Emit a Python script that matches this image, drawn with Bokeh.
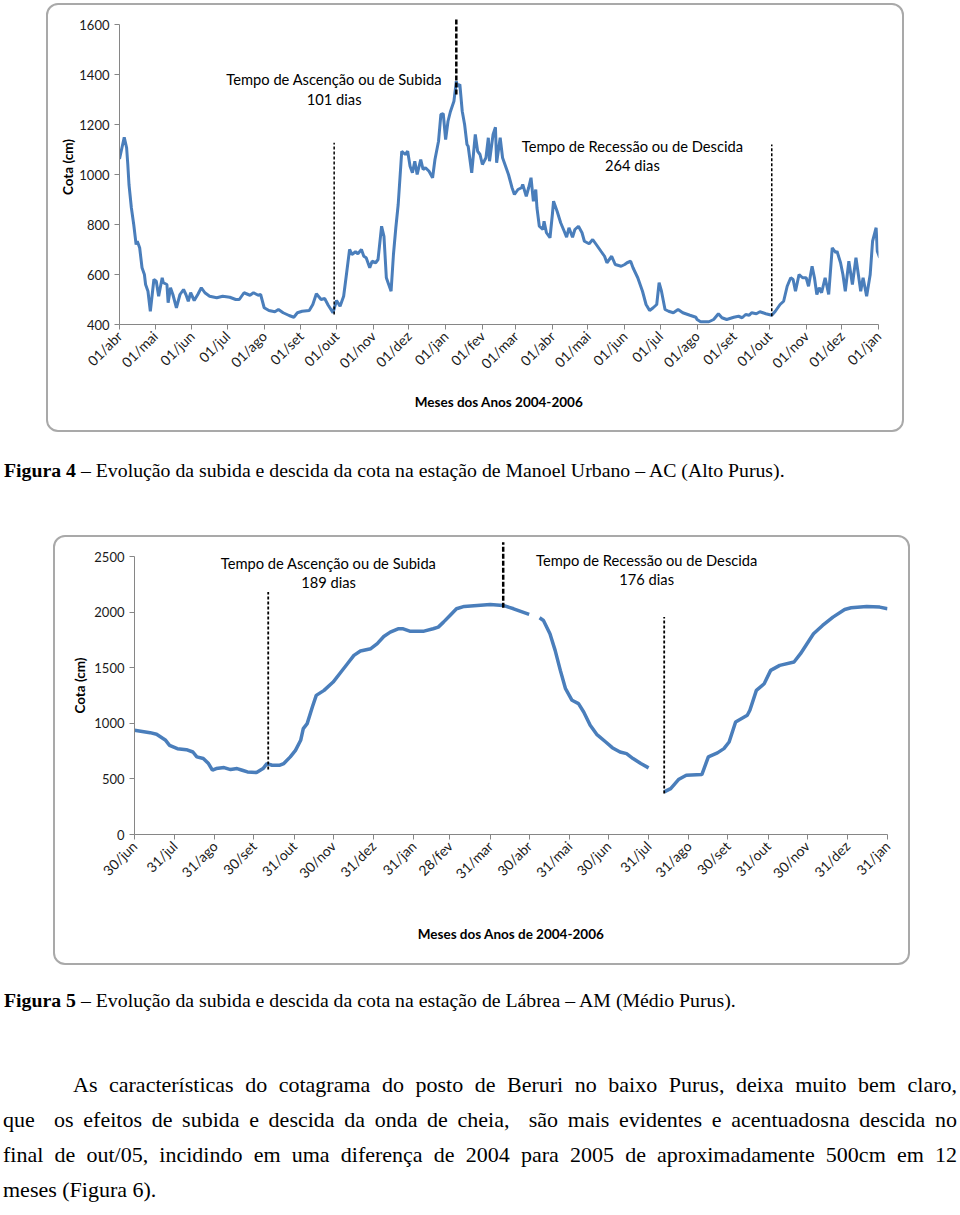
import math
from bokeh.plotting import figure
from bokeh.models import FixedTicker, Label, Arrow, Div, Range1d
from bokeh.layouts import column
from bokeh.embed import file_html
from bokeh.resources import INLINE

# ---------------- Figura 4 : Manoel Urbano (days since 01/abr/2004) ----------------
mu_day = [0, 4, 6, 7, 8, 10, 12, 14, 15, 17, 19, 21, 22, 24, 26, 29, 31, 33, 36, 37, 40, 41, 43, 45, 48,
          51, 54, 56, 58, 60, 63, 66, 69, 72, 76, 82, 87, 93, 98, 101, 105, 110, 113, 117, 119, 122, 126,
          131, 134, 138, 143, 147, 150, 154, 160,
          163, 166, 170, 173, 176, 180, 183, 186, 189, 191, 194, 196, 199, 201, 204, 206, 208, 211, 213,
          216, 218, 221, 223, 225, 227, 229, 231, 233, 235, 238, 241, 243, 245, 247, 249, 251, 254, 256,
          258, 261, 264, 266, 269, 271, 273, 275, 277, 279, 282, 284, 285, 287, 289, 291, 293, 294, 297,
          300, 302, 304, 306, 309, 311, 312, 315, 317,
          318, 321, 323, 328, 331, 333, 336, 339, 340, 343, 345, 347, 349, 351, 352, 354, 357, 358, 360,
          363, 365, 366, 369, 372, 375, 377, 379, 382, 384, 387, 390, 392, 396, 399, 402, 406, 409, 411,
          415, 418, 423, 426, 428, 431, 433, 437, 441, 444, 447, 450, 453, 455, 457, 460, 463, 467, 471,
          475, 481, 486,
          487, 490, 497, 501, 505, 508, 512, 518, 522, 525, 528, 531, 533, 537, 540, 545, 550, 553, 557,
          560, 563, 566, 568, 570, 573, 576, 579, 581, 584, 586, 588, 590, 592, 595, 598, 601, 604, 605,
          608, 610, 612, 615, 618, 621, 623, 625, 627, 630, 633, 635, 638, 639, 641]
mu_cota = [1062, 1149, 1107, 1040, 960, 867, 800, 720, 733, 707, 627, 600, 560, 533, 453, 580, 573, 513,
           587, 567, 560, 487, 547, 520, 467, 520, 540, 520, 493, 527, 496, 520, 547, 527, 513, 507, 513,
           509, 500, 500, 527, 517, 527, 517, 520, 467, 456, 451, 460, 447, 436, 429, 447, 453, 456,
           480, 523, 500, 504, 477, 447, 496, 473, 513, 587, 700, 680, 691, 683, 700, 673, 667, 627, 653,
           647, 660, 793, 753, 587, 560, 533, 680, 787, 880, 1093, 1080, 1093, 1033, 1007, 1053, 1000,
           1060, 1020, 1027, 1013, 987, 1060, 1133, 1240, 1243, 1140, 1213, 1251, 1293, 1373, 1353, 1360,
           1253, 1200, 1120, 1113, 1007, 1160, 1093, 1080, 1040, 1067, 1147, 1053, 1160, 1189,
           1047, 1147, 1067, 1000, 947, 920, 940, 947, 960, 913, 947, 987, 893, 940, 867, 793, 780, 813,
           767, 747, 840, 893, 853, 807, 773, 749, 787, 749, 780, 793, 767, 733, 723, 740, 720, 693, 673,
           647, 673, 640, 633, 640, 647, 653, 627, 587, 533, 480, 456, 467, 480, 567, 533, 460, 453, 447,
           460, 447, 437, 429,
           420, 411, 411, 420, 443, 427, 420, 429, 433, 427, 440, 437, 447, 443, 451, 443, 437, 453, 480,
           493, 553, 587, 580, 533, 600, 587, 587, 553, 633, 587, 520, 547, 527, 587, 520, 707, 687, 693,
           647, 600, 533, 653, 560, 667, 600, 533, 587, 513, 600, 733, 787, 693, 667]
mu_tick_day = [0, 30, 61, 91, 122, 153, 183, 214, 244, 275, 306, 334, 365, 395, 426, 456, 487, 518,
               548, 579, 609, 640]
mu_tick_label = ["01/abr", "01/mai", "01/jun", "01/jul", "01/ago", "01/set", "01/out", "01/nov",
                 "01/dez", "01/jan", "01/fev", "01/mar", "01/abr", "01/mai", "01/jun", "01/jul",
                 "01/ago", "01/set", "01/out", "01/nov", "01/dez", "01/jan"]
mu_y_ticks = [400, 600, 800, 1000, 1200, 1400, 1600]
mu_mark_day = [181, 284, 550]
mu_mark_low = [440, 1320, 433]
mu_mark_high = [1127, 1620, 1120]

# ---------------- Figura 5 : Lábrea (days since 30/jun/2004) ----------------
lab_day_1 = [0, 12, 17, 24, 27, 33, 40, 45, 48, 53, 57, 60, 63, 69, 74, 79, 83, 87, 94, 99, 102, 106,
             112, 115, 120, 124, 128, 130, 133, 137, 140, 146, 153, 158, 164, 169, 174, 182, 187, 192,
             197, 203, 207, 212, 223, 230, 234, 238, 243, 248, 254, 264, 274, 284, 292, 304]
lab_cota_1 = [937, 916, 901, 847, 802, 772, 763, 742, 698, 683, 638, 578, 593, 602, 584, 593, 578, 563,
              557, 593, 638, 623, 623, 638, 698, 757, 847, 952, 997, 1147, 1251, 1296, 1371, 1446, 1536,
              1611, 1650, 1671, 1716, 1781, 1820, 1850, 1850, 1829, 1829, 1850, 1865, 1910, 1970, 2030,
              2051, 2060, 2069, 2060, 2030, 1979]
lab_day_2 = [312, 315, 320, 324, 328, 332, 337, 342, 346, 351, 356, 363, 368, 374, 379, 384, 390, 396]
lab_cota_2 = [1949, 1925, 1805, 1656, 1476, 1311, 1207, 1177, 1102, 982, 901, 832, 781, 742, 727, 683,
              638, 599]
lab_day_3 = [408, 413, 419, 425, 437, 442, 449, 454, 458, 463, 472, 474, 479, 485, 490, 497, 508, 513,
             518, 523, 530, 538, 547, 552, 564, 574, 580]
lab_cota_3 = [383, 413, 494, 533, 539, 698, 734, 772, 832, 1012, 1072, 1117, 1296, 1356, 1476, 1521,
              1551, 1626, 1716, 1805, 1880, 1955, 2024, 2039, 2051, 2045, 2030]
lab_tick_day = [0, 31, 62, 92, 123, 153, 184, 215, 243, 274, 304, 335, 365, 396, 427, 457, 488, 518,
                549, 580]
lab_tick_label = ["30/jun", "31/jul", "31/ago", "30/set", "31/out", "30/nov", "31/dez", "31/jan",
                  "28/fev", "31/mar", "30/abr", "31/mai", "30/jun", "31/jul", "31/ago", "30/set",
                  "31/out", "30/nov", "31/dez", "31/jan"]
lab_y_ticks = [0, 500, 1000, 1500, 2000, 2500]
lab_mark_day = [103, 284, 408]
lab_mark_low = [584, 2039, 368]
lab_mark_high = [2180, 2629, 1955]

FONT = "Lato"
BLUE = "#4A7EBB"
AXIS = "#868686"
BOX = {"outline": "2px solid #a9a9a9", "outline-offset": "-2px", "border-radius": "12px"}


def make_fig(w, h, x_end, y0, y1, ybound, bl, br, bt, bb, mt, ml, ticks, labels, yticks,
             xtitle, xstand, ystand):
    p = figure(width=w, height=h, x_range=Range1d(0, x_end), y_range=Range1d(y0, y1),
               output_backend="svg", toolbar_location=None, min_border_left=bl, min_border_right=br,
               min_border_top=bt, min_border_bottom=bb, margin=(mt, 0, 0, ml), styles=BOX,
               background_fill_color=None, border_fill_color=None, frame_align=False)
    p.grid.visible = False
    p.outline_line_color = None
    for ax in (p.xaxis[0], p.yaxis[0]):
        ax.axis_line_color = AXIS
        ax.major_tick_line_color = AXIS
        ax.minor_tick_line_color = None
        ax.major_tick_in = 0
        ax.major_tick_out = 5
        ax.major_label_text_font = FONT
        ax.major_label_text_color = "#1a1a1a"
        ax.axis_label_text_font = FONT
        ax.axis_label_text_font_style = "bold"
        ax.axis_label_text_font_size = "13.5px"
        ax.axis_label_text_color = "black"
    p.xaxis.major_label_text_font_size = "14px"
    p.yaxis.major_label_text_font_size = "13px"
    p.xaxis.ticker = FixedTicker(ticks=ticks)
    p.xaxis.major_label_overrides = {t: l for t, l in zip(ticks, labels)}
    p.xaxis.major_label_orientation = math.pi / 4
    p.xaxis.major_label_standoff = 4
    p.xaxis.axis_label = xtitle
    p.xaxis.axis_label_standoff = xstand
    p.yaxis.ticker = FixedTicker(ticks=yticks)
    p.yaxis.bounds = ybound
    p.yaxis.axis_label = "Cota (cm)"
    p.yaxis.axis_label_standoff = ystand
    p.yaxis.major_label_standoff = 5
    return p


def add_marks(p, days, lows, highs, styles):
    for d, lo, hi, (w, dash) in zip(days, lows, highs, styles):
        p.add_layout(Arrow(end=None, x_start=d, y_start=lo, x_end=d, y_end=hi,
                           line_color="black", line_width=w, line_dash=dash))


def add_text(p, x, y, txt):
    p.add_layout(Label(x=x, y=y, text=txt, text_align="center", text_baseline="middle",
                       text_font=FONT, text_font_size="14.7px", text_color="black"))


# Figure 4  (element y 3..432, frame bottom at y=324)
p1 = make_fig(858, 429, 640, 400, 1660, (400, 1600), 73, 26, 6, 108, 3, 46,
              mu_tick_day, mu_tick_label, mu_y_ticks, "Meses dos Anos 2004-2006", 13, 0)
p1.line(mu_day, mu_cota, line_color=BLUE, line_width=3)
add_marks(p1, mu_mark_day, mu_mark_low, mu_mark_high, [(1.5, "3 2"), (2.5, "5 2"), (1.5, "3 2")])
add_text(p1, 181, 1384, "Tempo de Ascenção ou de Subida")
add_text(p1, 181, 1304, "101 dias")
add_text(p1, 432.5, 1116, "Tempo de Recessão ou de Descida")
add_text(p1, 432.5, 1040, "264 dias")

# Figure 5  (element y 535..965, frame bottom at y=834)
p2 = make_fig(857, 430, 580, 0, 2680, (0, 2500), 81, 23, 1, 131, 0, 53,
              lab_tick_day, lab_tick_label, lab_y_ticks, "Meses dos Anos de 2004-2006", 35, 3)
for xs, ys in ((lab_day_1, lab_cota_1), (lab_day_2, lab_cota_2), (lab_day_3, lab_cota_3)):
    p2.line(xs, ys, line_color=BLUE, line_width=3.5)
add_marks(p2, lab_mark_day, lab_mark_low, lab_mark_high, [(1.8, "3 2"), (2.5, "5 2"), (1.8, "3 2")])
add_text(p2, 149.5, 2446, "Tempo de Ascenção ou de Subida")
add_text(p2, 149.5, 2275, "189 dias")
add_text(p2, 394.5, 2473, "Tempo de Recessão ou de Descida")
add_text(p2, 394.5, 2302, "176 dias")

SERIF = "font-family:'Liberation Serif','Times New Roman',serif; color:#000; margin:0;"
cap1 = Div(width=958, height=103, margin=0, text=(
    f'<div style="{SERIF} font-size:19.8px; line-height:26px; padding-top:25px; margin-left:4px; '
    'white-space:nowrap;"><b>Figura 4</b> – Evolução da subida e descida da cota na estação de '
    'Manoel Urbano – AC (Alto Purus).</div>'))
cap2 = Div(width=958, height=102, margin=0, text=(
    f'<div style="{SERIF} font-size:19.8px; line-height:26px; padding-top:22px; margin-left:4px; '
    'white-space:nowrap;"><b>Figura 5</b> – Evolução da subida e descida da cota na estação de '
    'Lábrea – AM (Médio Purus).</div>'))
J = 'text-align:justify; text-align-last:justify; white-space:nowrap;'
para = Div(width=958, height=148, margin=0, styles={"overflow": "hidden"}, text=(
    f'<div style="{SERIF} font-size:22px; line-height:35px; margin-left:3px; width:954px;">'
    f'<div style="{J} text-indent:70px;">As características do cotagrama do posto de Beruri no baixo '
    'Purus, deixa muito bem claro,</div>'
    f'<div style="{J}">que&nbsp; os efeitos de subida e descida da onda de cheia,&nbsp; são mais evidentes '
    'e acentuadosna descida no</div>'
    f'<div style="{J}">final de out/05, incidindo em uma diferença de 2004 para 2005 de aproximadamente '
    '500cm em 12</div>'
    '<div>meses (Figura 6).</div></div>'))

layout = column(p1, cap1, p2, cap2, para, spacing=0)
open("out.html", "w").write(file_html(layout, INLINE))
